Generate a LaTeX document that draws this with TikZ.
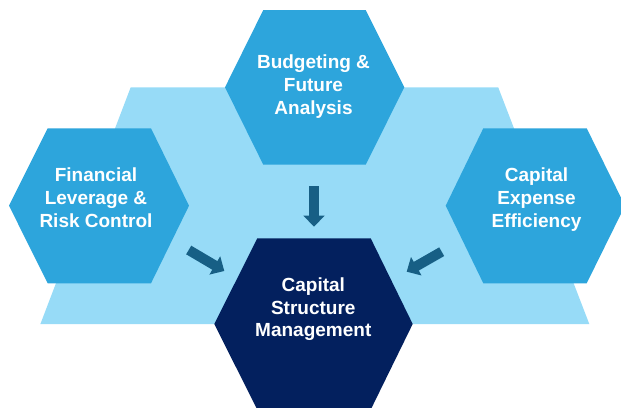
\documentclass[tikz,border=0pt]{standalone}
\usepackage{fontspec}
\setmainfont{Liberation Sans}
\usetikzlibrary{arrows.meta}
\definecolor{band}{HTML}{97DBF7}
\definecolor{hexblue}{HTML}{2DA5DC}
\definecolor{navy}{HTML}{03205E}
\definecolor{arrowc}{HTML}{175F85}
\begin{document}
\begin{tikzpicture}[x=1pt,y=-1pt,
  lbl/.style={text=white,font=\bfseries\fontsize{19}{22.7}\selectfont,align=center,anchor=base,inner sep=0pt},
  flow/.style={draw=arrowc,line width=10pt,-{Triangle[width=20.6pt,length=11pt]}}]
\useasboundingbox (0,0) rectangle (621,407);
\clip (0,0) rectangle (621,407);
% background band
\fill[band] (130.7,87.3) -- (498.2,87.3) -- (589.3,324) -- (40.4,324) -- cycle;
% hexagons
\fill[hexblue] (263.3,10) -- (365.7,10) -- (404.3,87.3) -- (365.7,164.7) -- (263.3,164.7) -- (225,87.3) -- cycle;
\fill[hexblue] (47.7,128.3) -- (151,128.3) -- (189,205.7) -- (151,283.3) -- (47.7,283.3) -- (9,205.7) -- cycle;
\fill[hexblue] (483.3,128.3) -- (586.7,128.3) -- (625,205.7) -- (586.7,283.3) -- (483.3,283.3) -- (445.7,205.7) -- cycle;
\fill[navy] (257.3,238.3) -- (370.7,238.3) -- (412.7,324) -- (370.7,409.7) -- (257.3,409.7) -- (214.3,324) -- cycle;
% labels (anchor base = baseline of last line)
\node[lbl] (budget) at (313.5,114.3) {Budgeting \&\\Future\\Analysis};
\node[lbl] (lever) at (96,227.3) {Financial\\Leverage \&\\Risk Control};
\node[lbl] (capex) at (536.5,227.3) {Capital\\Expense\\Efficiency};
\node[lbl] (csm) at (313.3,336.7) {Capital\\Structure\\Management};
% arrows
\coordinate (a1s) at (314,186);   \coordinate (a1e) at (314,226.7);
\coordinate (a2s) at (188.7,250); \coordinate (a2e) at (224.3,271);
\coordinate (a3s) at (441.7,251.7); \coordinate (a3e) at (406.7,271.7);
\draw[flow] (a1s) -- (a1e);
\draw[flow] (a2s) -- (a2e);
\draw[flow] (a3s) -- (a3e);
\end{tikzpicture}
\end{document}
